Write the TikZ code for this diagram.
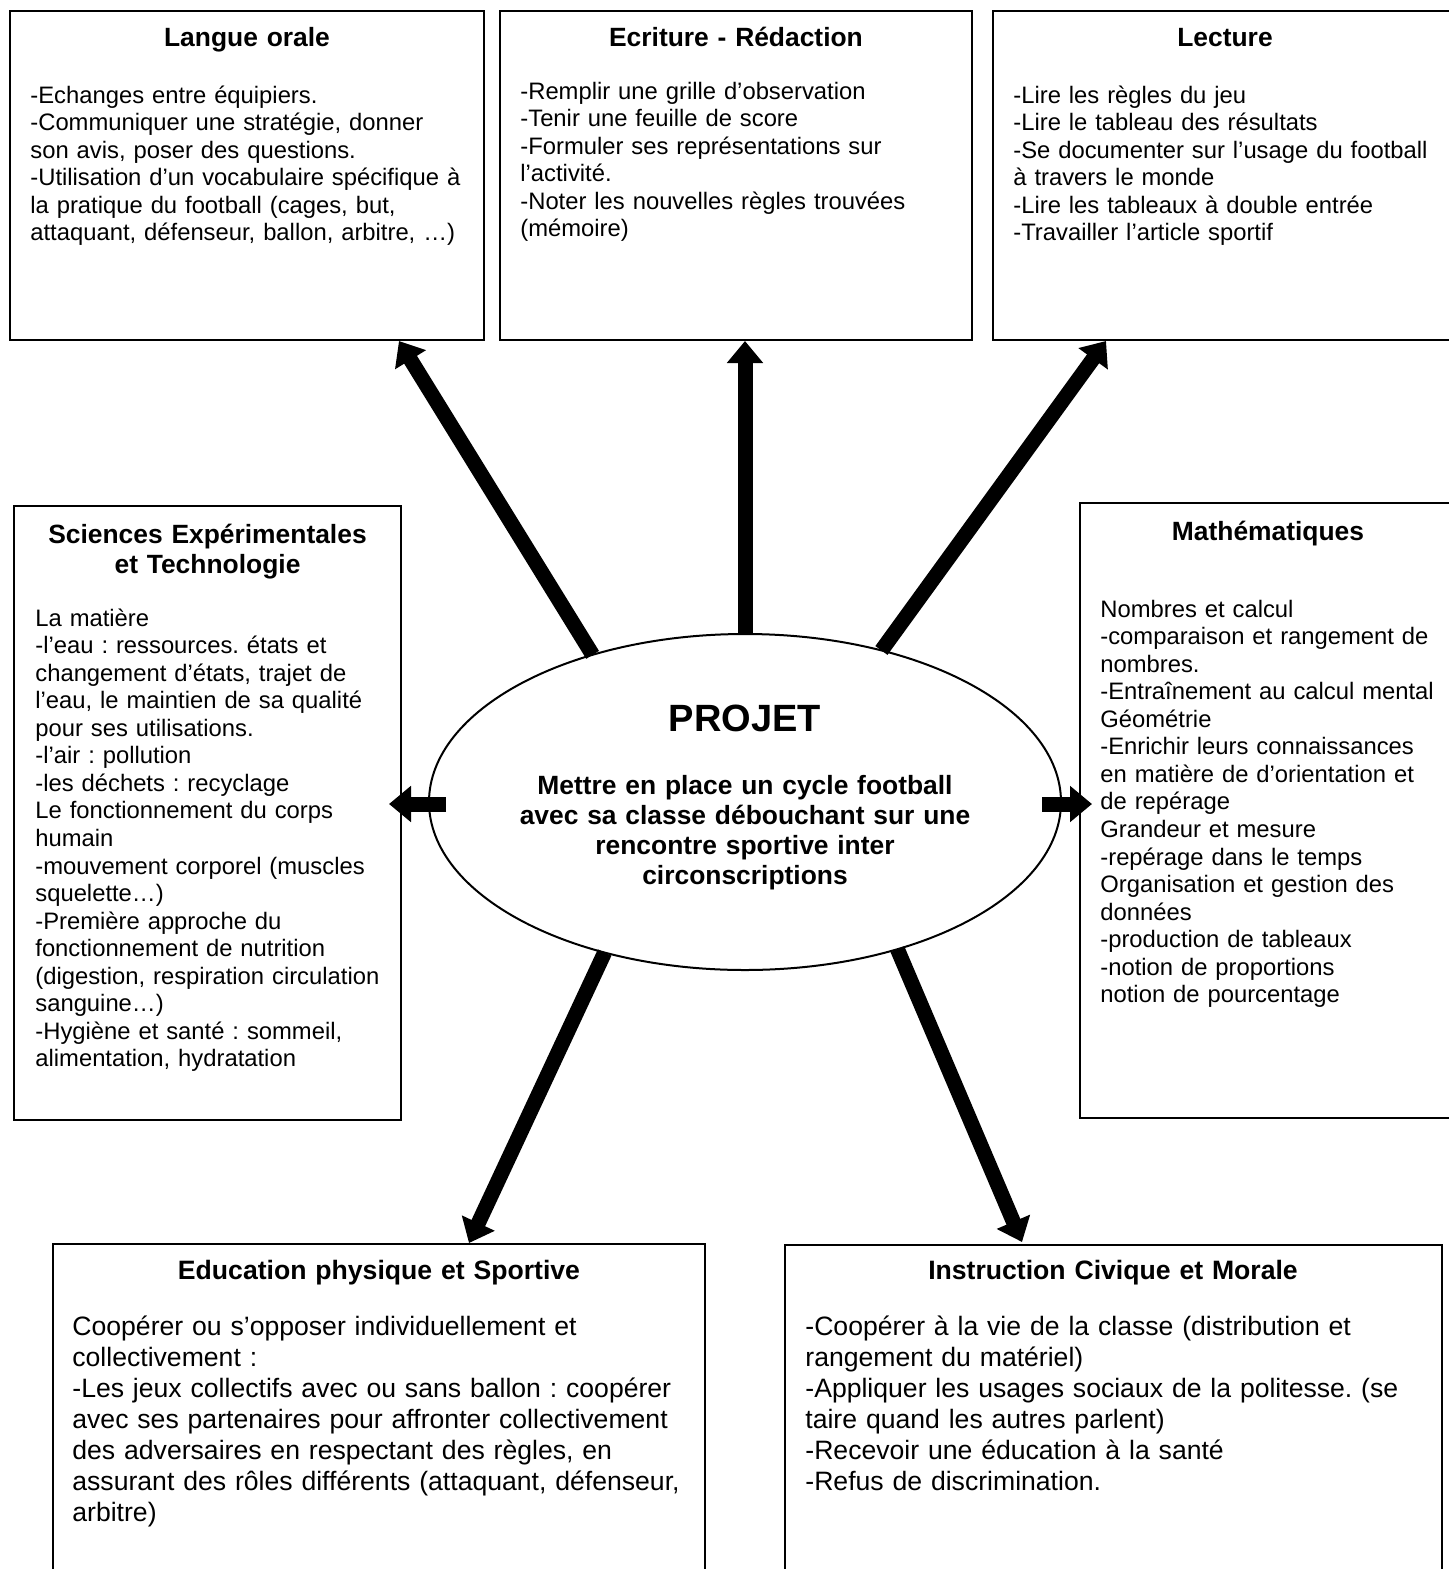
\documentclass[tikz,border=0pt]{standalone}
\usepackage{fontspec}
\setmainfont{Liberation Sans}
\usetikzlibrary{arrows.meta,calc,shapes.geometric}
\newcommand\mkbox[5]{\node[boxst, minimum width={(#4-#2)*0.5pt}, minimum height={(#5-#3)*0.5pt}] (#1) at ({(#2+#4)/2},{(#3+#5)/2}) {};}
\tikzset{
  boxst/.style={draw, line width=1pt, inner sep=0pt, outer sep=0pt},
  ttl/.style={font=\bfseries\fontsize{13.2}{15}\selectfont, anchor=base, inner sep=0pt, text width=240pt, align=center},
  bodytxt/.style={font=\fontsize{11.9}{13.78}\selectfont, anchor=base west, inner sep=0pt, text width=260pt, align=left},
  bodybig/.style={font=\fontsize{13.3}{15.5}\selectfont, anchor=base west, inner sep=0pt, text width=340pt, align=left},
  bigarrow/.style={line width=7.5pt, -{Triangle[width=17.5pt,length=11pt]}},
}
\begin{document}
\frenchspacing
\begin{tikzpicture}[x=0.5pt,y=-0.5pt]
\path[use as bounding box] (0,0) rectangle (1449,1569);
\clip (0,0) rectangle (1449,1569);
\fill[white] (0,0) rectangle (1449,1569);

% boxes
\mkbox{lo}{10}{11}{484}{340}
\mkbox{er}{500}{11}{972}{340}
\mkbox{le}{993}{11}{1462}{340}
\mkbox{se}{14}{506}{401}{1120}
\mkbox{ma}{1080}{503}{1462}{1118}
\mkbox{ep}{53}{1244}{705}{1590}
\mkbox{ic}{785}{1245}{1442}{1590}

% titles
\node[ttl] (lo-h) at (247,46) {Langue orale};
\node[ttl] (er-h) at (736,46) {Ecriture - Rédaction};
\node[ttl] (le-h) at (1225,46) {Lecture};
\node[ttl, text width=200pt] (se-h) at (207.5,543) {Sciences Expérimentales\\et Technologie};
\node[ttl] (ma-h) at (1268,540) {Mathématiques};
\node[ttl, font=\bfseries\fontsize{13.3}{15}\selectfont] (ep-h) at (379,1279) {Education physique et Sportive};
\node[ttl, font=\bfseries\fontsize{13.3}{15}\selectfont] (ic-h) at (1113,1279) {Instruction Civique et Morale};

% bodies
\node[bodytxt] (lo-b) at (30,103) {-Echanges entre équipiers.\\
-Communiquer une stratégie, donner\\
son avis, poser des questions.\\
-Utilisation d’un vocabulaire spécifique à\\
la pratique du football (cages, but,\\
attaquant, défenseur, ballon, arbitre, …)};

\node[bodytxt] (er-b) at (520,99) {-Remplir une grille d’observation\\
-Tenir une feuille de score\\
-Formuler ses représentations sur\\
l’activité.\\
-Noter les nouvelles règles trouvées\\
(mémoire)};

\node[bodytxt] (le-b) at (1013,103) {-Lire les règles du jeu\\
-Lire le tableau des résultats\\
-Se documenter sur l’usage du football\\
à travers le monde\\
-Lire les tableaux à double entrée\\
-Travailler l’article sportif};

\node[bodytxt] (se-b) at (35,626) {La matière\\
-l’eau : ressources. états et\\
changement d’états, trajet de\\
l’eau, le maintien de sa qualité\\
pour ses utilisations.\\
-l’air : pollution\\
-les déchets : recyclage\\
Le fonctionnement du corps\\
humain\\
-mouvement corporel (muscles\\
squelette…)\\
-Première approche du\\
fonctionnement de nutrition\\
(digestion, respiration circulation\\
sanguine…)\\
-Hygiène et santé : sommeil,\\
alimentation, hydratation};

\node[bodytxt] (ma-b) at (1100,617) {Nombres et calcul\\
-comparaison et rangement de\\
nombres.\\
-Entraînement au calcul mental\\
Géométrie\\
-Enrichir leurs connaissances\\
en matière de d’orientation et\\
de repérage\\
Grandeur et mesure\\
-repérage dans le temps\\
Organisation et gestion des\\
données\\
-production de tableaux\\
-notion de proportions\\
notion de pourcentage};

\node[bodybig] (ep-b) at (72,1335) {Coopérer ou s’opposer individuellement et\\
collectivement :\\
-Les jeux collectifs avec ou sans ballon : coopérer\\
avec ses partenaires pour affronter collectivement\\
des adversaires en respectant des règles, en\\
assurant des rôles différents (attaquant, défenseur,\\
arbitre)};

\node[bodybig] (ic-b) at (805,1335) {-Coopérer à la vie de la classe (distribution et\\
rangement du matériel)\\
-Appliquer les usages sociaux de la politesse. (se\\
taire quand les autres parlent)\\
-Recevoir une éducation à la santé\\
-Refus de discrimination.};

% central ellipse
\node[ellipse, draw, line width=1pt, fill=white, minimum width=316pt, minimum height=168pt, inner sep=0pt, outer sep=0pt] (ell) at (745,802) {};
\node[font=\bfseries\fontsize{19}{22}\selectfont, anchor=base, inner sep=0pt] (pj) at (745,731) {PROJET};
\node[font=\bfseries\fontsize{13.2}{15.15}\selectfont, anchor=base, inner sep=0pt, text width=260pt, align=center] (pj-b) at (745,794) {Mettre en place un cycle football\\
avec sa classe débouchant sur une\\
rencontre sportive inter\\
circonscriptions};

% arrow tips
\coordinate (tlo) at (399,341);
\coordinate (ter) at (745,341);
\coordinate (tle) at (1106,341);
\coordinate (tse) at (389,804);
\coordinate (tma) at (1092,804);
\coordinate (tep) at (469,1243);
\coordinate (tic) at (1022,1242);
\coordinate (sse) at (446,804);
\coordinate (sma) at (1042,804);

\draw[bigarrow] (ell.136.9) -- (tlo);
\draw[bigarrow] (ell.90) -- (ter);
\draw[bigarrow] (ell.48.2) -- (tle);
\draw[bigarrow] (sse) -- (tse);
\draw[bigarrow] (sma) -- (tma);
\draw[bigarrow] (ell.227) -- (tep);
\draw[bigarrow] (ell.316) -- (tic);
\end{tikzpicture}
\end{document}
